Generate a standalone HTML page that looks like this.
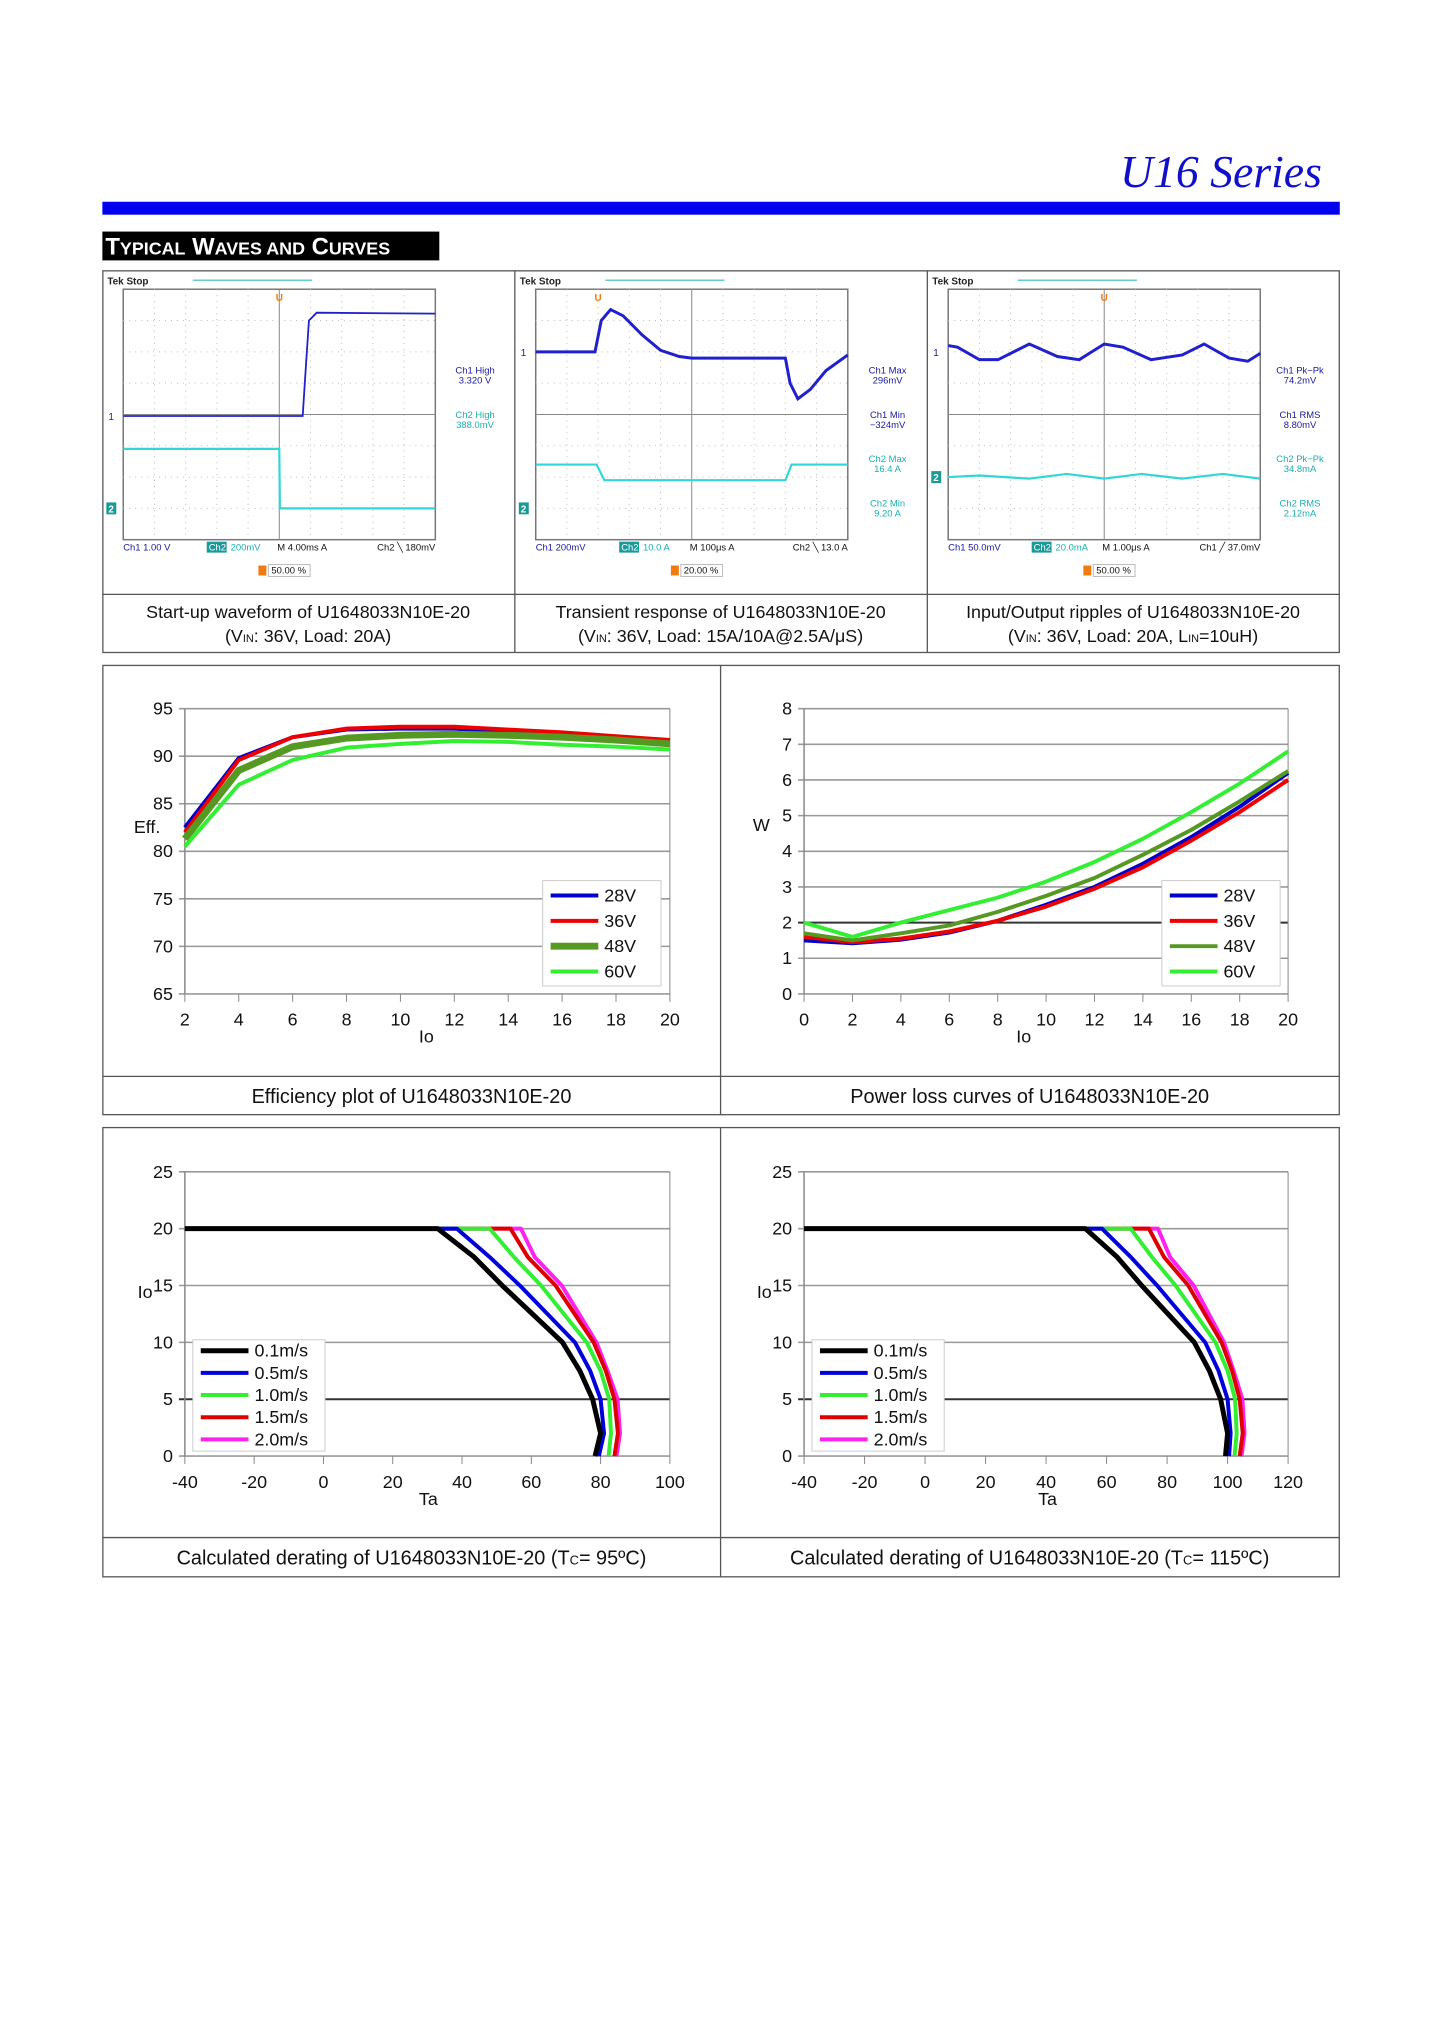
<!DOCTYPE html>
<html><head><meta charset="utf-8"><style>
html,body{margin:0;padding:0;background:#fff;}
#page{position:relative;width:1440px;height:2038px;overflow:hidden;background:#fff;font-family:"Liberation Sans",sans-serif;}
svg text{font-family:"Liberation Sans",sans-serif;}
</style></head><body>
<div id="page">
<svg id="svg" width="1440" height="2038" viewBox="0 0 1440 2038">
<g transform="scale(0.9939)">
<text x="1330" y="188" text-anchor="end" font-family="Liberation Serif" font-style="italic" font-size="46" fill="#1010c8" style="font-family:'Liberation Serif',serif">U16 Series</text>
<rect x="103" y="203" width="1245" height="13" fill="#0000ee"/>
<rect x="103" y="233" width="339" height="29" fill="#000"/>
<text x="106" y="256" fill="#fff" font-weight="bold" font-size="24">T<tspan font-size="18">YPICAL</tspan> W<tspan font-size="18">AVES AND</tspan> C<tspan font-size="18">URVES</tspan></text>
<g fill="none" stroke="#555" stroke-width="1.3">
<rect x="103.5" y="272.5" width="1244" height="384"/>
<line x1="518" y1="272" x2="518" y2="657"/><line x1="933" y1="272" x2="933" y2="657"/>
<line x1="103" y1="598" x2="1348" y2="598"/>
</g>
<g font-size="18" text-anchor="middle" fill="#111">
<text x="310" y="622">Start-up waveform of U1648033N10E-20</text>
<text x="310" y="646">(V<tspan font-size="11">IN</tspan>: 36V, Load: 20A)</text>
<text x="725" y="622">Transient response of U1648033N10E-20</text>
<text x="725" y="646">(V<tspan font-size="11">IN</tspan>: 36V, Load: 15A/10A@2.5A/μS)</text>
<text x="1140" y="622">Input/Output ripples of U1648033N10E-20</text>
<text x="1140" y="646">(V<tspan font-size="11">IN</tspan>: 36V, Load: 20A, L<tspan font-size="11">IN</tspan>=10uH)</text>
</g>
<g fill="none" stroke="#555" stroke-width="1.3">
<rect x="103.5" y="669.5" width="1244" height="452"/>
<line x1="725" y1="669" x2="725" y2="1122"/><line x1="103" y1="1083" x2="1348" y2="1083"/>
<rect x="103.5" y="1134.5" width="1244" height="452"/>
<line x1="725" y1="1134" x2="725" y2="1587"/><line x1="103" y1="1547" x2="1348" y2="1547"/>
</g>
<g font-size="20" text-anchor="middle" fill="#111">
<text x="414" y="1110">Efficiency plot of U1648033N10E-20</text>
<text x="1036" y="1110">Power loss curves of U1648033N10E-20</text>
<text x="414" y="1574">Calculated derating of U1648033N10E-20 (T<tspan font-size="13">C</tspan>= 95ºC)</text>
<text x="1036" y="1574">Calculated derating of U1648033N10E-20 (T<tspan font-size="13">C</tspan>= 115ºC)</text>
</g>
<g id="charts"></g>
</g>
</svg>
</div>
<script>
// ---- efficiency data ----
const effLoads=[2,4,6,8,10,12,14,16,18,20];
const eff28=[82.5,89.8,92.0,92.8,92.9,92.9,92.6,92.3,92.0,91.6];
const eff36=[82.0,89.6,92.0,92.9,93.1,93.1,92.8,92.5,92.1,91.7];
const eff48=[81.3,88.5,91.0,91.9,92.2,92.3,92.2,92.0,91.7,91.3];
const eff60=[80.5,87.0,89.6,90.9,91.3,91.6,91.5,91.2,91.0,90.7];
const effYTicks=[65,70,75,80,85,90,95];
const effXTicks=[2,4,6,8,10,12,14,16,18,20];
// ---- power loss data ----
const lossLoads=[0,2,4,6,8,10,12,14,16,18,20];
const loss28=[1.5,1.42,1.52,1.72,2.05,2.5,3.0,3.65,4.4,5.25,6.2];
const loss36=[1.6,1.45,1.55,1.75,2.05,2.45,2.95,3.55,4.3,5.1,6.0];
const loss48=[1.7,1.5,1.7,1.92,2.3,2.75,3.25,3.9,4.6,5.4,6.25];
const loss60=[2.0,1.6,2.0,2.35,2.7,3.15,3.7,4.35,5.1,5.9,6.8];
const lossYTicks=[0,1,2,3,4,5,6,7,8];
const lossXTicks=[0,2,4,6,8,10,12,14,16,18,20];
const voltLabels=["28V","36V","48V","60V"];
// ---- derating data (Ta at each Io level) ----
const derIo=[20,20,17.5,15,10,7.5,5,2,0];
const der95_01=[-40,33,43.5,51.6,69,74,77.7,80,78.4];
const der95_05=[-40,38.5,48,56.7,72.6,77,80,81,79.5];
const der95_10=[-40,48,55,62.8,76,80,82.5,83,82.3];
const der95_15=[-40,54,59,67,78,81.5,84,85,84];
const der95_20=[-40,57,61,68.8,78.8,82,84.9,85.6,84.6];
const der115_01=[-40,53,63.5,71.6,89,94,97.7,100,99.3];
const der115_05=[-40,58.5,68,76.7,92.6,97,100,101,100.5];
const der115_10=[-40,68,75,82.8,96,100,102.5,103,102.3];
const der115_15=[-40,74,79,87,98,101.5,104,105,104];
const der115_20=[-40,77,81,88.8,98.8,102,104.9,105.6,104.6];
const derYTicks=[0,5,10,15,20,25];
const der95XTicks=[-40,-20,0,20,40,60,80,100];
const der115XTicks=[-40,-20,0,20,40,60,80,100,120];
const speedLabels=["0.1m/s","0.5m/s","1.0m/s","1.5m/s","2.0m/s"];

const NS="http://www.w3.org/2000/svg";
const root=document.getElementById('charts');
function mk(tag,attrs,parent){const e=document.createElementNS(NS,tag);for(const k in attrs)e.setAttribute(k,attrs[k]);(parent||root).appendChild(e);return e;}
function lin(d0,d1,r0,r1){return v=>r0+(v-d0)*(r1-r0)/(d1-d0);}

function chart(o){
  const g=mk('g',{});
  
  
  const xs=lin(o.xd[0],o.xd[1],o.x0,o.x1), ys=lin(o.yd[0],o.yd[1],o.y0,o.y1);
  o.yt.forEach(v=>{
    const l=mk('line',{x1:o.x0-6,x2:o.x1,y1:ys(v),y2:ys(v),stroke:(o.dark&&o.dark.includes(v))?'#333':'#999','stroke-width':(o.dark&&o.dark.includes(v))?2:1.6},g);
    
    
    const t=mk('text',{x:o.x0-12,y:ys(v)+6,'text-anchor':'end','font-size':18,fill:'#111'},g);t.textContent=v;
    
    
  });
  const ax=mk('line',{x1:o.x0,x2:o.x0,y1:o.y1,y2:o.y0,stroke:'#888','stroke-width':1.5},g);
  
  
  const rx=mk('line',{x1:o.x1,x2:o.x1,y1:o.y1,y2:o.y0,stroke:'#888','stroke-width':1},g);
  
  
  o.xt.forEach(v=>{
    const l=mk('line',{x1:xs(v),x2:xs(v),y1:o.y0,y2:o.y0+8,stroke:'#888','stroke-width':1},g);
    
    
    const t=mk('text',{x:xs(v),y:o.y0+32,'text-anchor':'middle','font-size':18,fill:'#111'},g);t.textContent=v;
    
    
  });
  const xl=mk('text',{x:o.xlab[0],y:o.xlab[1],'text-anchor':'middle','font-size':18,fill:'#111','font-family':'Liberation Serif'},g);xl.textContent=o.xlab[2];
  
  
  const yl=mk('text',{x:o.ylab[0],y:o.ylab[1],'text-anchor':'middle','font-size':18,fill:'#111','font-family':o.ylabSerif?'Liberation Serif':'Liberation Sans'},g);yl.textContent=o.ylab[2];
  
  
  const order=o.reverse?o.series.slice().reverse():o.series;
  order.forEach((s,i)=>{
    const pts=s.y.map((v,j)=>o.swap?[xs(v),ys(s.x[j])]:[xs(s.x[j]),ys(v)]);
    const p=mk('polyline',{points:pts.map(p=>p.join(',')).join(' '),fill:'none',stroke:s.c,'stroke-width':s.w||4,'stroke-linejoin':'round'},g);
    
    
  });
  const L=o.leg;
  const lg=mk('g',{},g);
  
  
  mk('rect',{x:L.x,y:L.y,width:L.w,height:L.h,fill:'#fff',stroke:'#ccc','stroke-width':1},lg);
  o.series.forEach((s,i)=>{
    const yy=L.y+L.top+i*L.dy;
    const e=mk('g',{},lg);
    
    
    mk('line',{x1:L.x+8,x2:L.x+56,y1:yy,y2:yy,stroke:s.c,'stroke-width':s.w||4},e);
    const t=mk('text',{x:L.x+62,y:yy+6,'font-size':18,fill:'#111'},e);t.textContent=s.n;
  });
}
const vc=['#0000cc','#ee0000','#559922','#33ee33'];
chart({name:'efficiency-chart',x0:186,x1:674,y0:1000,y1:713,xd:[2,20],yd:[65,95],xt:effXTicks,yt:effYTicks,
  xlab:[429,1049,'Io'],ylab:[148,838,'Eff.'],
  series:[{n:voltLabels[0],x:effLoads,y:eff28,c:vc[0]},{n:voltLabels[1],x:effLoads,y:eff36,c:vc[1]},{n:voltLabels[2],x:effLoads,y:eff48,c:vc[2],w:7},{n:voltLabels[3],x:effLoads,y:eff60,c:vc[3]}],
  leg:{x:546,y:886,w:119,h:106,top:15,dy:25.5}});
chart({name:'power-loss-chart',x0:809,x1:1296,y0:1000,y1:713,xd:[0,20],yd:[0,8],xt:lossXTicks,yt:lossYTicks,dark:[2],
  xlab:[1030,1049,'Io'],ylab:[766,836,'W'],
  series:[{n:voltLabels[0],x:lossLoads,y:loss28,c:vc[0]},{n:voltLabels[1],x:lossLoads,y:loss36,c:vc[1]},{n:voltLabels[2],x:lossLoads,y:loss48,c:vc[2]},{n:voltLabels[3],x:lossLoads,y:loss60,c:vc[3]}],
  leg:{x:1169,y:886,w:119,h:106,top:15,dy:25.5}});
const sc=['#000','#0000dd','#33ee33','#dd0000','#ff22ee'];
chart({name:'derating-95-chart',x0:186,x1:674,y0:1465,y1:1179,xd:[-40,100],yd:[0,25],xt:der95XTicks,yt:derYTicks,dark:[5],swap:true,reverse:true,
  xlab:[431,1514,'Ta'],ylab:[146,1306,'Io'],ylabSerif:true,
  series:[der95_01,der95_05,der95_10,der95_15,der95_20].map((a,i)=>({n:speedLabels[i],x:derIo,y:a,c:sc[i],w:i==0?5:4})),
  leg:{x:194,y:1348,w:133,h:112,top:11,dy:22.3}});
chart({name:'derating-115-chart',x0:809,x1:1296,y0:1465,y1:1179,xd:[-40,120],yd:[0,25],xt:der115XTicks,yt:derYTicks,dark:[5],swap:true,reverse:true,
  xlab:[1054,1514,'Ta'],ylab:[769,1306,'Io'],ylabSerif:true,
  series:[der115_01,der115_05,der115_10,der115_15,der115_20].map((a,i)=>({n:speedLabels[i],x:derIo,y:a,c:sc[i],w:i==0?5:4})),
  leg:{x:817,y:1348,w:133,h:112,top:11,dy:22.3}});

// ---- oscilloscope traces (grid divisions: x 0..10, y 0..8 from top) ----
const s1ch1X=[0,5.75,5.85,5.95,6.2,10];
const s1ch1Y=[4.05,4.05,2.5,1.0,0.75,0.78];
const s1ch2X=[0,5,5.02,10];
const s1ch2Y=[5.1,5.1,7.0,7.0];
const s2ch1X=[0,1.9,2.1,2.4,2.8,3.4,4.0,4.6,5.0,8.0,8.15,8.4,8.8,9.3,10];
const s2ch1Y=[2.0,2.0,1.0,0.65,0.85,1.45,1.95,2.15,2.2,2.2,3.0,3.5,3.2,2.6,2.1];
const s2ch2X=[0,1.95,2.2,8.0,8.2,10];
const s2ch2Y=[5.6,5.6,6.1,6.1,5.6,5.6];
const s3ch1X=[0,0.3,1.0,1.6,2.6,3.5,4.2,5.0,5.6,6.5,7.5,8.2,9.0,9.6,10];
const s3ch1Y=[1.8,1.85,2.25,2.25,1.75,2.15,2.25,1.75,1.85,2.25,2.1,1.75,2.2,2.3,2.05];
const s3ch2X=[0,1.0,2.6,3.8,5.0,6.2,7.5,8.8,10];
const s3ch2Y=[6.0,5.95,6.05,5.9,6.05,5.9,6.05,5.9,6.05];
const scopeInfo=[
 {ox:103,bottom:['Ch1','1.00 V','Ch2','200mV','M 4.00ms','A','Ch2','\u2572','180mV'],labels:[['Ch1 High','3.320 V','#1a1a99'],['Ch2 High','388.0mV','#1ab0b0']],trig:'50.00 %',ch1:[s1ch1X,s1ch1Y],ch2:[s1ch2X,s1ch2Y],m1:4.05,m2:7.0,name:'startup-scope'},
 {ox:518,bottom:['Ch1','200mV','Ch2','10.0 A','M 100μs','A','Ch2','\u2572','13.0 A'],labels:[['Ch1 Max','296mV','#1a1a99'],['Ch1 Min','\u2212324mV','#1a1a99'],['Ch2 Max','16.4 A','#1ab0b0'],['Ch2 Min','9.20 A','#1ab0b0']],trig:'20.00 %',ch1:[s2ch1X,s2ch1Y],ch2:[s2ch2X,s2ch2Y],m1:2.0,m2:7.0,name:'transient-scope'},
 {ox:933,bottom:['Ch1','50.0mV','Ch2','20.0mA','M 1.00μs','A','Ch1','\u2571','37.0mV'],labels:[['Ch1 Pk\u2212Pk','74.2mV','#1a1a99'],['Ch1 RMS','8.80mV','#1a1a99'],['Ch2 Pk\u2212Pk','34.8mA','#1ab0b0'],['Ch2 RMS','2.12mA','#1ab0b0']],trig:'50.00 %',ch1:[s3ch1X,s3ch1Y],ch2:[s3ch2X,s3ch2Y],m1:2.0,m2:6.0,name:'ripple-scope'}
];
scopeInfo.forEach((s,si)=>{
  const gx=s.ox+21,gy=291,gw=314,gh=252;
  const X=lin(0,10,gx,gx+gw),Y=lin(0,8,gy,gy+gh);
  const g=mk('g',{});
  
  
  const t1=mk('text',{x:s.ox+5,y:286,'font-size':10,'font-weight':'bold',fill:'#222'},g);t1.textContent='Tek Stop';
  mk('line',{x1:gx+70,x2:gx+190,y1:282,y2:282,stroke:'#6cc','stroke-width':1.5},g);
  mk('rect',{x:gx,y:gy,width:gw,height:gh,fill:'#fff',stroke:'#777','stroke-width':1.5},g);
  for(let i=1;i<10;i++)mk('line',{x1:X(i),x2:X(i),y1:gy,y2:gy+gh,stroke:i==5?'#888':'#bbb','stroke-width':1,'stroke-dasharray':i==5?'':'1 5'},g);
  for(let j=1;j<8;j++)mk('line',{x1:gx,x2:gx+gw,y1:Y(j),y2:Y(j),stroke:j==4?'#888':'#bbb','stroke-width':1,'stroke-dasharray':j==4?'':'1 5'},g);
  const tm=mk('text',{x:X(si==1?2:5),y:gy+12,'text-anchor':'middle','font-size':10,'font-weight':'bold',fill:'#f07c10'},g);tm.textContent='U';
  const c2=mk('polyline',{points:s.ch2[0].map((v,i)=>X(v)+','+Y(s.ch2[1][i])).join(' '),fill:'none',stroke:'#33d6d6','stroke-width':2.2},g);
  
  
  const c1=mk('polyline',{points:s.ch1[0].map((v,i)=>X(v)+','+Y(s.ch1[1][i])).join(' '),fill:'none',stroke:'#2020cc','stroke-width':si==0?1.8:3},g);
  
  
  const m1=mk('text',{x:s.ox+6,y:Y(s.m1)+4,'font-size':10,fill:'#1a1a99'},g);m1.textContent='1';
  mk('rect',{x:s.ox+4,y:Y(s.m2)-6,width:10,height:12,fill:'#1a9999'},g);
  const m2=mk('text',{x:s.ox+6,y:Y(s.m2)+4,'font-size':10,fill:'#fff','font-weight':'bold'},g);m2.textContent='2';
  s.labels.forEach((l,i)=>{
    const a=mk('text',{x:s.ox+375,y:376+i*44.5,'text-anchor':'middle','font-size':9.5,fill:l[2]},g);a.textContent=l[0];
    const b=mk('text',{x:s.ox+375,y:386+i*44.5,'text-anchor':'middle','font-size':9.5,fill:l[2]},g);b.textContent=l[1];
  });
  const bb=s.bottom;
  const bt=mk('text',{x:gx,y:554,'font-size':9.5,fill:'#1a1a99'},g);
  bt.textContent=bb[0]+'  '+bb[1];
  mk('rect',{x:gx+84,y:545,width:20,height:11,fill:'#1a9999'},g);
  const ct=mk('text',{x:gx+86,y:554,'font-size':9.5,fill:'#fff'},g);ct.textContent=bb[2];
  const d=mk('text',{x:gx+108,y:554,'font-size':9.5,fill:'#1ab0b0'},g);d.textContent=bb[3];
  const e=mk('text',{x:gx+155,y:554,'font-size':9.5,fill:'#111'},g);e.textContent=bb[4]+'  '+bb[5];
  const f=mk('text',{x:gx+gw,y:554,'text-anchor':'end','font-size':9.5,fill:'#111'},g);f.textContent=bb[6]+' '+bb[7]+'  '+bb[8];
  mk('rect',{x:gx+136,y:569,width:8,height:10,fill:'#f07c10'},g);
  mk('rect',{x:gx+146,y:568,width:42,height:12,fill:'#fff',stroke:'#bbb'},g);
  const tr=mk('text',{x:gx+149,y:577,'font-size':9.5,fill:'#111'},g);tr.textContent=s.trig;
});
</script>
</body></html>
